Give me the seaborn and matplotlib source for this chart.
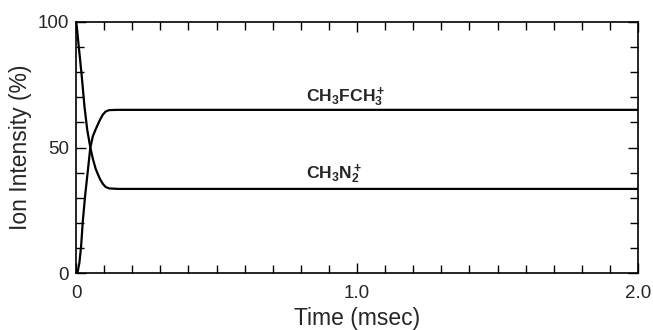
import matplotlib
matplotlib.use("Agg")
import matplotlib.pyplot as plt
from matplotlib.ticker import MultipleLocator, FixedLocator, FixedFormatter
import seaborn as sns
import pandas as pd

# ---- data ----
t_n2 = [0.0, 0.003, 0.01, 0.02, 0.03, 0.04, 0.051, 0.06, 0.07, 0.077, 0.085, 0.095, 0.105, 0.118, 0.15, 2.0]
n2_vals = [100, 98, 90, 79, 66.5, 57, 50, 45.5, 41.5, 39.6, 37.5, 35.6, 34.3, 33.7, 33.5, 33.5]

t_fch3 = [0.005, 0.012, 0.018, 0.024, 0.032, 0.041, 0.051, 0.06, 0.071, 0.083, 0.095, 0.105, 0.118, 0.15, 2.0]
fch3_vals = [0, 4, 10.4, 20.3, 30.3, 39.6, 50, 54.5, 57.5, 60.5, 63, 64.3, 64.9, 65.0, 65.0]

series_names = ["CH3N2+", "CH3FCH3+"]
x_tick_vals = [0, 1.0, 2.0]
x_tick_labels = ["0", "1.0", "2.0"]
y_tick_vals = [0, 50, 100]
y_tick_labels = ["0", "50", "100"]

df = pd.concat([
    pd.DataFrame({"time": t_n2, "intensity": n2_vals, "ion": series_names[0]}),
    pd.DataFrame({"time": t_fch3, "intensity": fch3_vals, "ion": series_names[1]}),
], ignore_index=True)

sns.set_style("ticks")
plt.rcParams["font.family"] = ["Liberation Sans", "DejaVu Sans"]
plt.rcParams["mathtext.fontset"] = "custom"
plt.rcParams["mathtext.rm"] = "Liberation Sans"
plt.rcParams["mathtext.bf"] = "Liberation Sans:bold"
plt.rcParams["mathtext.it"] = "Liberation Sans:italic"

fig = plt.figure(figsize=(6.53, 3.30), dpi=100)
ax = fig.add_axes([76 / 653, 1 - 273 / 330, (638 - 76) / 653, (273 - 22) / 330])

sns.lineplot(data=df, x="time", y="intensity", hue="ion", units="ion",
             estimator=None, palette=["black", "black"], legend=False,
             linewidth=1.6, ax=ax)

ax.set_xlim(0, 2.0)
ax.set_ylim(0, 100)
ax.xaxis.set_major_locator(FixedLocator(x_tick_vals))
ax.xaxis.set_major_formatter(FixedFormatter(x_tick_labels))
ax.yaxis.set_major_locator(FixedLocator(y_tick_vals))
ax.yaxis.set_major_formatter(FixedFormatter(y_tick_labels))
ax.xaxis.set_minor_locator(MultipleLocator(0.1))
ax.yaxis.set_minor_locator(MultipleLocator(10))
ax.tick_params(axis="both", which="both", direction="in", top=True, right=True,
               color="black", width=1.0)
ax.tick_params(axis="both", which="major", length=7, labelsize=13.5)
ax.tick_params(axis="x", which="major", pad=9)
ax.tick_params(axis="y", which="major", pad=5)
ax.tick_params(axis="both", which="minor", length=6)
for s in ax.spines.values():
    s.set_linewidth(1.2)
    s.set_color("black")

ax.set_xlabel("Time (msec)", fontsize=16.5, labelpad=3)
ax.set_ylabel("Ion Intensity (%)", fontsize=16.5, labelpad=4)

ax.text(0.82, 68.5, r"$\mathbf{CH_3FCH_3^+}$", fontsize=12.6, ha="left", va="baseline")
ax.text(0.82, 37.5, r"$\mathbf{CH_3N_2^+}$", fontsize=12.6, ha="left", va="baseline")

fig.savefig("out.png", dpi=100)
